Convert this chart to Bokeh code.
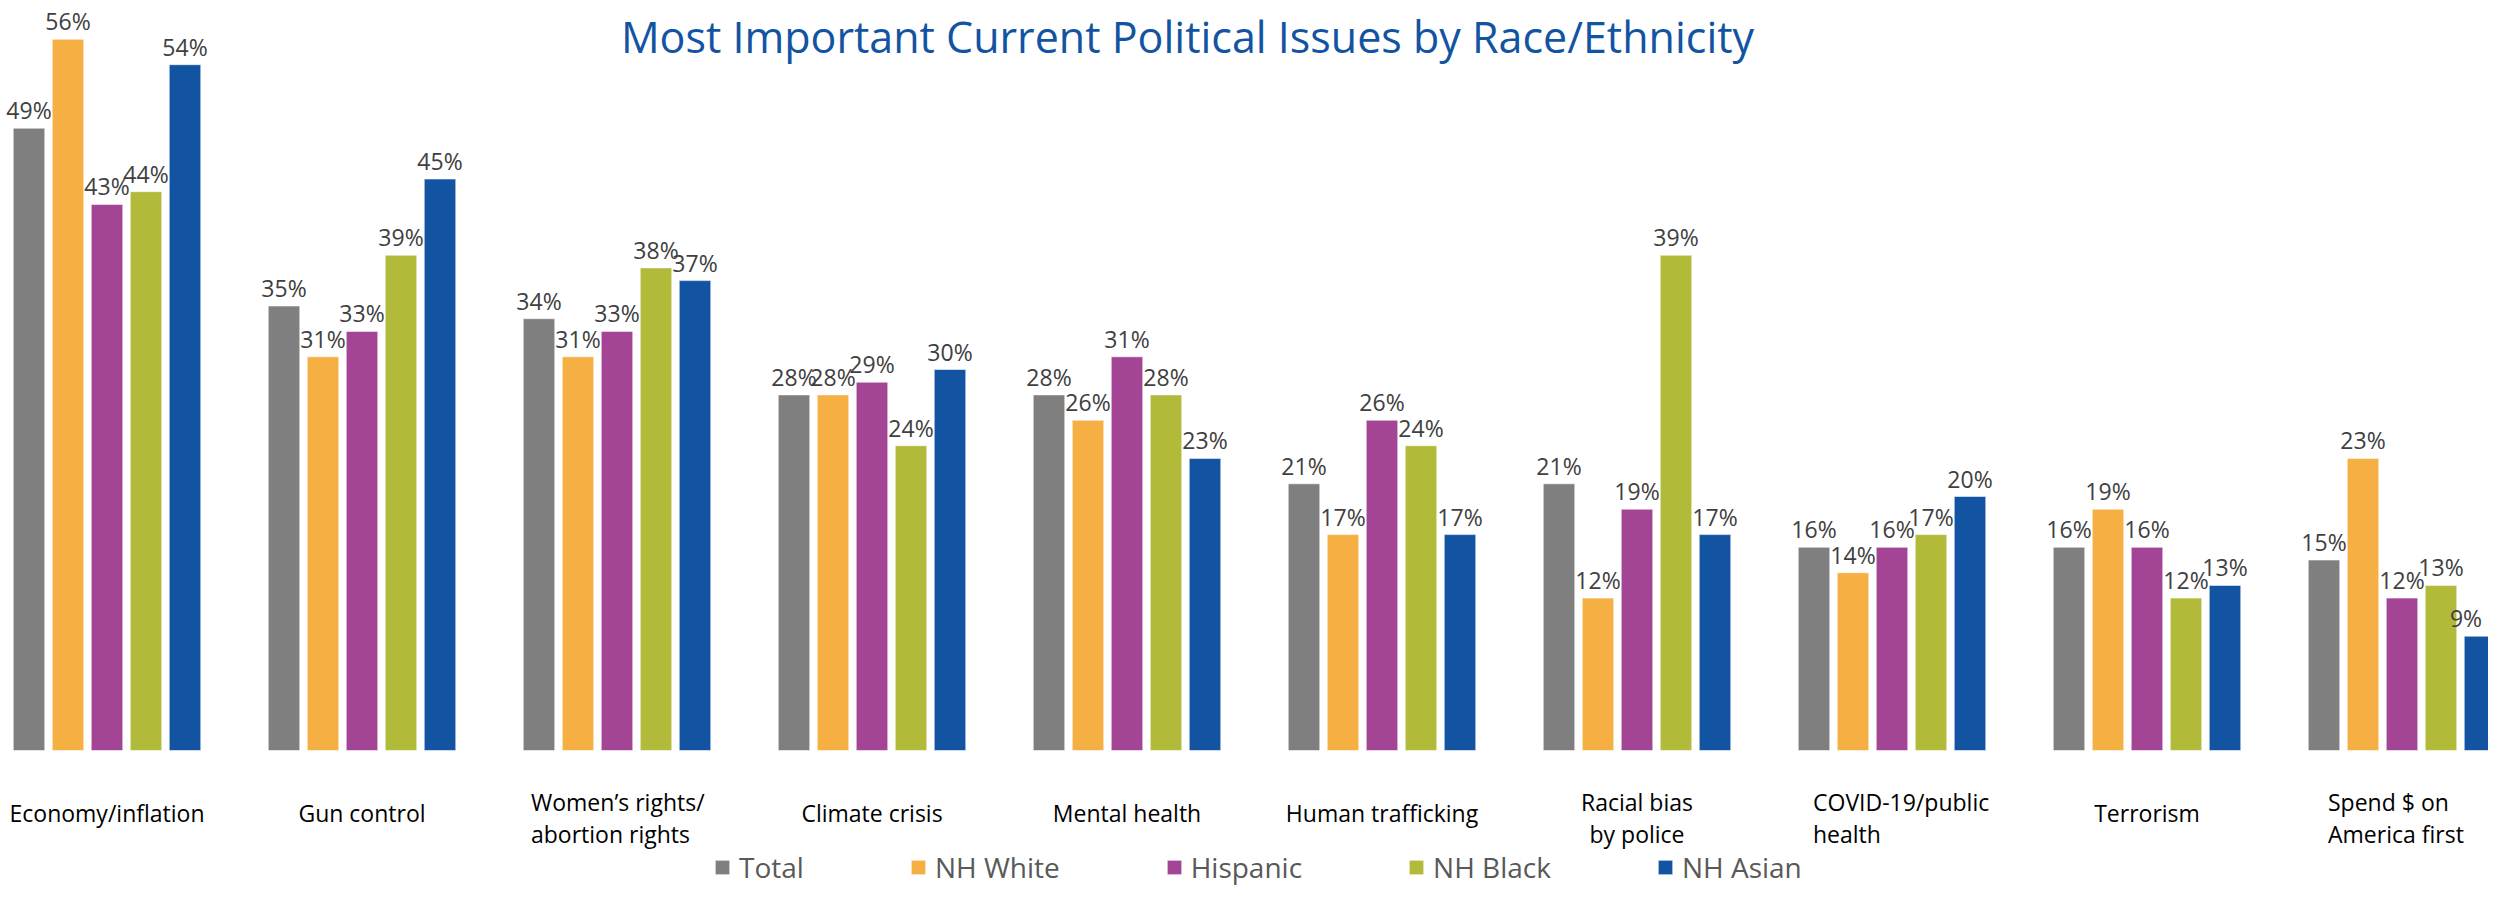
from bokeh.plotting import figure
from bokeh.models import Range1d, Legend, LegendItem, Label
from bokeh.embed import file_html
from bokeh.resources import INLINE
from bokeh.core.properties import value
import numpy as np

# ---------------- data ----------------
issues = ["Economy/inflation", "Gun control", "Women\u2019s rights/\nabortion rights",
          "Climate crisis", "Mental health", "Human trafficking", "Racial bias\nby police",
          "COVID-19/public\nhealth", "Terrorism", "Spend $ on\nAmerica first"]
groups = ["Total", "NH White", "Hispanic", "NH Black", "NH Asian"]
total    = [49, 35, 34, 28, 28, 21, 21, 16, 16, 15]
nh_white = [56, 31, 31, 28, 26, 17, 12, 14, 19, 23]
hispanic = [43, 33, 33, 29, 31, 26, 19, 16, 16, 12]
nh_black = [44, 39, 38, 24, 28, 24, 39, 17, 12, 13]
nh_asian = [54, 45, 37, 30, 23, 17, 17, 20, 13, 9]
title_text = "Most Important Current Political Issues by Race/Ethnicity"

series = [total, nh_white, hispanic, nh_black, nh_asian]
colors = ["#7F7F7F", "#F5AF42", "#A34495", "#B2BA3A", "#1254A1"]

# ---------------- layout constants (pixels) ----------------
W, H = 2488, 886
GROUP_PX = 255.0
FIRST_CENTER = 114.5 - 8   # frame coords
BASE_Y = 758 - 8           # baseline, from top of frame
PX_PER_UNIT = 12.7
BAR_STEP = 39.0 / GROUP_PX
BAR_W = 31.5 / GROUP_PX

x_start = (0 - FIRST_CENTER) / GROUP_PX
x_end = (W - FIRST_CENTER) / GROUP_PX
y_top = BASE_Y / PX_PER_UNIT
y_bot = -(H - BASE_Y) / PX_PER_UNIT

p = figure(width=W, height=H, output_backend="svg", toolbar_location=None,
           x_range=Range1d(x_start, x_end), y_range=Range1d(y_bot, y_top),
           x_axis_location=None, y_axis_location=None, min_border=0)
p.grid.visible = False
p.outline_line_color = None
p.background_fill_color = "white"

FONT = value("Open Sans")
idx = np.arange(len(issues))

# value labels that sit against the right edge are nudged inwards (pixels)
label_nudge = {(4, 9): -14}

renderers = []
for j, (vals, col) in enumerate(zip(series, colors)):
    xs = idx + (j - 2) * BAR_STEP
    r = p.vbar(x=xs, top=vals, bottom=0, width=BAR_W, fill_color=col,
               line_color="white", line_alpha=0.55, line_width=1)
    renderers.append(r)
    xo = [label_nudge.get((j, i), 0) for i in range(len(vals))]
    p.text(x=xs, y=vals, text=[f"{v}%" for v in vals], text_align="center",
           text_baseline="alphabetic", x_offset=xo, y_offset=-18, text_font=FONT,
           text_font_size="23px", text_color="#404040")

# category labels, drawn line by line
left_aligned = {2: -86, 7: -79, 9: -74}
lx, lt, ly, lal, lxo = [], [], [], [], []
for i, lab in enumerate(issues):
    lines = lab.split("\n")
    for k, line in enumerate(lines):
        lx.append(float(i))
        lt.append(line)
        if len(lines) == 1:
            ly.append(62)
        else:
            ly.append(51 + 32 * k)
        if i in left_aligned:
            lal.append("left")
            lxo.append(left_aligned[i])
        else:
            lal.append("center")
            lxo.append(0)
p.text(x=lx, y=[0] * len(lx), text=lt, text_align=lal, text_baseline="alphabetic",
       x_offset=lxo, y_offset=ly, text_font=FONT, text_font_size="23px",
       text_color="#000000")

# title
p.add_layout(Label(x=1195 - 8, y=H - (44 - 8), x_units="screen", y_units="screen",
                   text=title_text, text_align="center", text_baseline="alphabetic",
                   text_font="Open Sans", text_font_size="43px", text_color="#1254A1"))

legend = Legend(items=[LegendItem(label=g, renderers=[r]) for g, r in zip(groups, renderers)],
                orientation="horizontal", location=(721 - 8, 0),
                glyph_width=18, glyph_height=18, label_standoff=8, spacing=105,
                label_text_font="Open Sans", label_text_font_size="28px",
                label_text_color="#595959", border_line_alpha=0,
                background_fill_alpha=0, padding=0, margin=0)
p.add_layout(legend)

open("out.html", "w").write(file_html(p, INLINE))
